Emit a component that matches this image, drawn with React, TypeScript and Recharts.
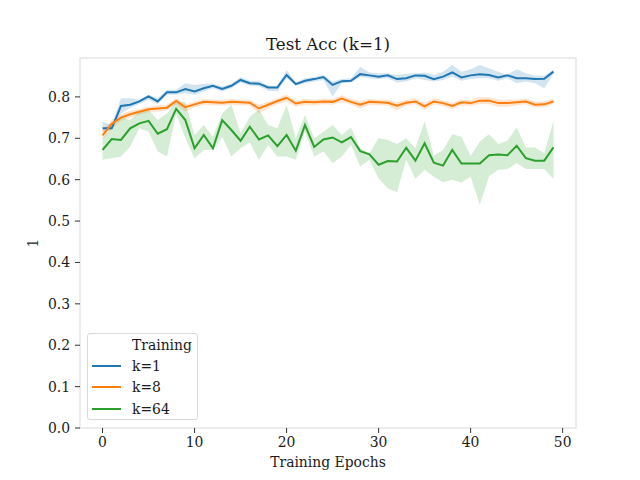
import { ComposedChart, Area, Line, XAxis, YAxis, ReferenceArea } from 'recharts'

const epochs = [
  0, 1, 2, 3, 4, 5, 6, 7, 8, 9, 10, 11, 12, 13, 14, 15, 16, 17, 18, 19, 20, 21, 22, 23, 24,
  25, 26, 27, 28, 29, 30, 31, 32, 33, 34, 35, 36, 37, 38, 39, 40, 41, 42, 43, 44, 45, 46, 47, 48, 49,
]

const k1Mean = [
  0.724, 0.724, 0.778, 0.781, 0.789, 0.801, 0.789, 0.811, 0.811, 0.819, 0.813, 0.821, 0.827, 0.819, 0.827,
  0.841, 0.833, 0.832, 0.823, 0.823, 0.853, 0.831, 0.839, 0.843, 0.848, 0.829, 0.838, 0.839, 0.855, 0.852,
  0.849, 0.852, 0.843, 0.845, 0.852, 0.851, 0.843, 0.849, 0.859, 0.847, 0.852, 0.855, 0.853, 0.847, 0.852,
  0.845, 0.845, 0.843, 0.844, 0.861,
]
const k1Low = [
  0.716, 0.720, 0.760, 0.773, 0.783, 0.794, 0.783, 0.805, 0.805, 0.809, 0.805, 0.813, 0.821, 0.813, 0.821,
  0.835, 0.827, 0.826, 0.815, 0.813, 0.845, 0.827, 0.833, 0.837, 0.841, 0.801, 0.833, 0.835, 0.848, 0.845,
  0.843, 0.845, 0.835, 0.837, 0.845, 0.841, 0.837, 0.841, 0.849, 0.839, 0.843, 0.845, 0.845, 0.839, 0.845,
  0.833, 0.837, 0.833, 0.821, 0.856,
]
const k1High = [
  0.740, 0.732, 0.797, 0.797, 0.794, 0.805, 0.797, 0.817, 0.817, 0.833, 0.829, 0.832, 0.832, 0.825, 0.832,
  0.848, 0.839, 0.839, 0.827, 0.827, 0.865, 0.835, 0.845, 0.848, 0.853, 0.837, 0.843, 0.845, 0.872, 0.859,
  0.857, 0.857, 0.853, 0.856, 0.857, 0.859, 0.853, 0.861, 0.877, 0.861, 0.867, 0.877, 0.869, 0.861, 0.853,
  0.867, 0.857, 0.851, 0.851, 0.865,
]

const k8Mean = [
  0.707, 0.735, 0.750, 0.758, 0.764, 0.770, 0.772, 0.774, 0.790, 0.775, 0.782, 0.788, 0.787, 0.786, 0.788,
  0.787, 0.786, 0.772, 0.781, 0.790, 0.798, 0.784, 0.788, 0.787, 0.789, 0.788, 0.796, 0.788, 0.781, 0.788,
  0.787, 0.786, 0.779, 0.786, 0.789, 0.777, 0.789, 0.785, 0.778, 0.787, 0.785, 0.791, 0.791, 0.785, 0.785,
  0.787, 0.789, 0.781, 0.782, 0.789,
]
const k8Low = [
  0.697, 0.725, 0.742, 0.750, 0.757, 0.763, 0.765, 0.767, 0.782, 0.765, 0.775, 0.781, 0.780, 0.779, 0.781,
  0.780, 0.779, 0.760, 0.773, 0.782, 0.789, 0.776, 0.781, 0.780, 0.782, 0.781, 0.788, 0.781, 0.772, 0.781,
  0.780, 0.779, 0.768, 0.779, 0.782, 0.768, 0.782, 0.778, 0.770, 0.780, 0.778, 0.783, 0.782, 0.776, 0.776,
  0.780, 0.782, 0.774, 0.775, 0.782,
]
const k8High = [
  0.720, 0.745, 0.758, 0.766, 0.771, 0.777, 0.779, 0.781, 0.798, 0.782, 0.789, 0.795, 0.794, 0.793, 0.795,
  0.794, 0.793, 0.781, 0.788, 0.797, 0.806, 0.791, 0.795, 0.794, 0.796, 0.795, 0.804, 0.795, 0.790, 0.795,
  0.794, 0.793, 0.787, 0.793, 0.796, 0.786, 0.796, 0.792, 0.786, 0.794, 0.792, 0.800, 0.799, 0.793, 0.793,
  0.794, 0.796, 0.788, 0.789, 0.796,
]

const k64Mean = [
  0.672, 0.698, 0.696, 0.724, 0.736, 0.742, 0.711, 0.722, 0.771, 0.744, 0.676, 0.708, 0.676, 0.744, 0.720,
  0.694, 0.728, 0.697, 0.707, 0.681, 0.708, 0.670, 0.732, 0.679, 0.697, 0.702, 0.690, 0.703, 0.669, 0.661,
  0.636, 0.645, 0.644, 0.677, 0.646, 0.688, 0.641, 0.634, 0.672, 0.639, 0.639, 0.639, 0.659, 0.661, 0.659,
  0.682, 0.652, 0.646, 0.646, 0.678,
]
const k64Low = [
  0.648, 0.652, 0.656, 0.680, 0.724, 0.716, 0.668, 0.656, 0.760, 0.700, 0.652, 0.672, 0.672, 0.704, 0.656,
  0.676, 0.690, 0.648, 0.684, 0.656, 0.656, 0.648, 0.716, 0.656, 0.668, 0.640, 0.656, 0.684, 0.632, 0.648,
  0.603, 0.579, 0.570, 0.648, 0.602, 0.624, 0.607, 0.594, 0.600, 0.593, 0.607, 0.539, 0.608, 0.624, 0.626,
  0.640, 0.626, 0.626, 0.626, 0.602,
]
const k64High = [
  0.700, 0.725, 0.750, 0.744, 0.765, 0.769, 0.744, 0.760, 0.789, 0.787, 0.708, 0.732, 0.704, 0.760, 0.781,
  0.712, 0.752, 0.769, 0.732, 0.724, 0.781, 0.700, 0.756, 0.700, 0.716, 0.732, 0.708, 0.726, 0.676, 0.664,
  0.700, 0.696, 0.686, 0.700, 0.676, 0.742, 0.658, 0.672, 0.710, 0.704, 0.657, 0.692, 0.710, 0.686, 0.694,
  0.726, 0.678, 0.678, 0.664, 0.742,
]

const xTicks = [0, 10, 20, 30, 40, 50]
const yTicks = [0, 0.1, 0.2, 0.3, 0.4, 0.5, 0.6, 0.7, 0.8]
const seriesNames = ['k=1', 'k=8', 'k=64']
const colors = ['#1f77b4', '#ff7f0e', '#2ca02c']

const X_DOMAIN: [number, number] = [-2.45, 51.45]
const Y_DOMAIN: [number, number] = [0, 0.894]
const FONT = '"DejaVu Serif", serif'
const TICK = { fontSize: 13.9, fill: '#1a1a1a', fontFamily: FONT }

const rows = epochs.map((e, i) => ({
  epoch: e,
  k1: k1Mean[i],
  k1Band: [k1Low[i], k1High[i]],
  k8: k8Mean[i],
  k8Band: [k8Low[i], k8High[i]],
  k64: k64Mean[i],
  k64Band: [k64Low[i], k64High[i]],
}))

const keys = ['k1', 'k8', 'k64']

export default function App() {
  return (
    <div style={{ position: 'absolute', left: 0, top: 0, width: 640, height: 480, background: '#fff', fontFamily: FONT }}>
      <ComposedChart width={640} height={480} data={rows} margin={{ top: 58, right: 64, bottom: 22, left: 20 }}>
        <XAxis
          dataKey="epoch" type="number" domain={X_DOMAIN} ticks={xTicks} allowDataOverflow
          axisLine={false} tickLine={{ stroke: '#333' }} tickSize={5} tickMargin={4}
          tick={TICK} height={30}
        />
        <YAxis
          type="number" domain={Y_DOMAIN} ticks={yTicks} allowDataOverflow
          axisLine={false} tickLine={{ stroke: '#333' }} tickSize={5} tickMargin={5}
          tick={TICK} width={60} tickFormatter={(v: number) => v.toFixed(1)}
        />
        <ReferenceArea
          x1={X_DOMAIN[0]} x2={X_DOMAIN[1]} y1={Y_DOMAIN[0]} y2={Y_DOMAIN[1]}
          fill="none" stroke="#e6e6e6" strokeWidth={1.5} ifOverflow="visible"
        />
        {/* bands under all lines, like seaborn */}
        {keys.map((k, i) => (
          <Area
            key={k + 'Band'} type="linear" dataKey={k + 'Band'} stroke="none"
            fill={colors[i]} fillOpacity={0.2} isAnimationActive={false} activeDot={false}
          />
        ))}
        {keys.map((k, i) => (
          <Line
            key={k} type="linear" dataKey={k} stroke={colors[i]} strokeWidth={2}
            dot={false} activeDot={false} isAnimationActive={false}
          />
        ))}
      </ComposedChart>

      <div style={{ position: 'absolute', left: 80, width: 496, top: 34, lineHeight: '20px', fontSize: 16.7, textAlign: 'center', color: '#1a1a1a' }}>
        Test Acc (k=1)
      </div>
      <div style={{ position: 'absolute', left: 80, width: 496, top: 452, lineHeight: '20px', fontSize: 13.9, textAlign: 'center', color: '#1a1a1a' }}>
        Training Epochs
      </div>
      <div style={{ position: 'absolute', left: 23, top: 233, width: 20, height: 20, lineHeight: '20px', fontSize: 13.9, textAlign: 'center', transform: 'rotate(-90deg)', color: '#1a1a1a' }}>
        1
      </div>

      {/* legend: seaborn puts the hue title as a handle-less first entry */}
      <div style={{
        position: 'absolute', left: 87, top: 333, width: 111, height: 87, boxSizing: 'border-box',
        border: '1px solid #d9d9d9', borderRadius: 3, background: 'rgba(255,255,255,0.8)',
      }}>
        {['Training', ...seriesNames].map((name, i) => (
          <div key={name} style={{ position: 'absolute', left: 0, top: 1 + i * 21.2, height: 20, width: '100%' }}>
            {i > 0 && (
              <div style={{ position: 'absolute', left: 4, top: 9, width: 29, height: 2, background: colors[i - 1] }} />
            )}
            <div style={{ position: 'absolute', left: 44, top: 0, lineHeight: '20px', fontSize: 13.9, color: '#1a1a1a', whiteSpace: 'nowrap' }}>
              {name}
            </div>
          </div>
        ))}
      </div>
    </div>
  )
}
